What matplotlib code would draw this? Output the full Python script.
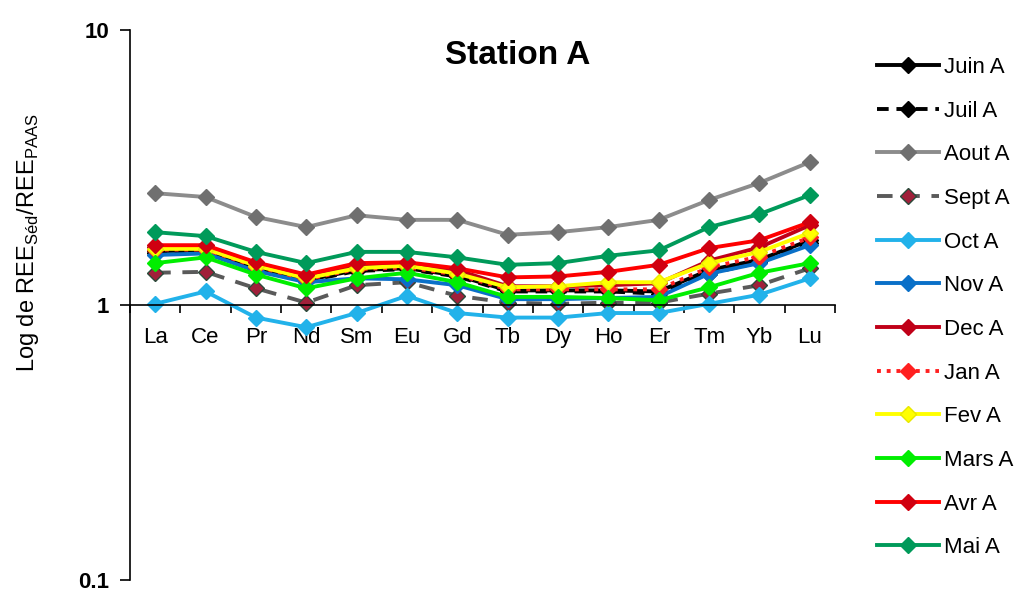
import matplotlib
matplotlib.use("Agg")
import matplotlib.pyplot as plt
from matplotlib.ticker import FixedLocator, NullLocator

plt.rcParams['font.family'] = ['Liberation Sans', 'DejaVu Sans']

elements = ['La', 'Ce', 'Pr', 'Nd', 'Sm', 'Eu', 'Gd', 'Tb', 'Dy', 'Ho', 'Er', 'Tm', 'Yb', 'Lu']

juin = [1.57, 1.58, 1.36, 1.23, 1.34, 1.36, 1.28, 1.13, 1.13, 1.13, 1.12, 1.34, 1.46, 1.72]
juil = [1.55, 1.57, 1.34, 1.22, 1.33, 1.35, 1.27, 1.12, 1.12, 1.12, 1.10, 1.30, 1.43, 1.68]
aout = [2.55, 2.47, 2.09, 1.92, 2.12, 2.04, 2.04, 1.80, 1.84, 1.92, 2.04, 2.41, 2.78, 3.31]
sept = [1.31, 1.32, 1.15, 1.02, 1.18, 1.21, 1.08, 1.02, 1.01, 1.02, 1.02, 1.10, 1.18, 1.36]
octo = [1.01, 1.12, 0.90, 0.83, 0.935, 1.08, 0.935, 0.90, 0.90, 0.935, 0.935, 1.01, 1.09, 1.25]
nov = [1.52, 1.54, 1.33, 1.21, 1.25, 1.24, 1.18, 1.05, 1.05, 1.06, 1.07, 1.30, 1.42, 1.65]
dec = [1.62, 1.62, 1.40, 1.27, 1.40, 1.41, 1.34, 1.17, 1.17, 1.18, 1.20, 1.45, 1.62, 1.95]
jan = [1.59, 1.59, 1.38, 1.24, 1.35, 1.37, 1.29, 1.14, 1.14, 1.14, 1.14, 1.37, 1.50, 1.76]
fev = [1.60, 1.60, 1.39, 1.25, 1.36, 1.39, 1.30, 1.16, 1.17, 1.21, 1.21, 1.42, 1.56, 1.83]
mars = [1.42, 1.49, 1.29, 1.15, 1.25, 1.31, 1.21, 1.07, 1.07, 1.06, 1.04, 1.16, 1.31, 1.42]
avr = [1.65, 1.65, 1.43, 1.29, 1.42, 1.43, 1.36, 1.26, 1.27, 1.32, 1.40, 1.61, 1.72, 2.00]
mai = [1.84, 1.78, 1.56, 1.42, 1.56, 1.56, 1.49, 1.40, 1.42, 1.51, 1.58, 1.92, 2.14, 2.51]

labels = ['Juin A', 'Juil A', 'Aout A', 'Sept A', 'Oct A', 'Nov A', 'Dec A',
          'Jan A', 'Fev A', 'Mars A', 'Avr A', 'Mai A']
series = [juin, juil, aout, sept, octo, nov, dec, jan, fev, mars, avr, mai]

styles = [
    dict(color='black', ls='-', mfc='black', mec='black'),
    dict(color='black', ls=(0, (3, 2)), mfc='black', mec='black'),
    dict(color='#8c8c8c', ls='-', mfc='#707070', mec='#707070'),
    dict(color='#5a5a5a', ls=(0, (4, 3)), mfc='#a0203a', mec='#2a4a3a'),
    dict(color='#22b2ea', ls='-', mfc='#22b2ea', mec='#22b2ea'),
    dict(color='#0a70c8', ls='-', mfc='#0a70c8', mec='#0a70c8'),
    dict(color='#c00018', ls='-', mfc='#c00018', mec='#c00018'),
    dict(color='#ff2020', ls=(0, (1, 1.5)), mfc='#ff2020', mec='#ff2020'),
    dict(color='#ffff00', ls='-', mfc='#ffff00', mec='#e8e800'),
    dict(color='#00ee00', ls='-', mfc='#00ee00', mec='#00ee00'),
    dict(color='#ff0000', ls='-', mfc='#d00010', mec='#d00010'),
    dict(color='#009a5a', ls='-', mfc='#009a5a', mec='#009a5a'),
]

fig = plt.figure(figsize=(10.35, 5.95), dpi=100)
ax = fig.add_axes([130/1035, 1 - 580/595, (835-130)/1035, 550/595])

x = list(range(len(elements)))
for lab, vals, st in zip(labels, series, styles):
    ax.plot(x, vals, marker='D', ms=8, lw=2.8, label=lab, **st)

ax.set_yscale('log')
ax.set_ylim(0.1, 10)
ax.set_xlim(-0.5, len(elements) - 0.5)

ax.spines['top'].set_visible(False)
ax.spines['right'].set_visible(False)
ax.spines['bottom'].set_position(('data', 1))
ax.spines['left'].set_linewidth(1.2)
ax.spines['bottom'].set_linewidth(1.2)

ax.set_xticks(x)
ax.set_xticklabels(elements, fontsize=16)
ax.xaxis.set_minor_locator(FixedLocator([i - 0.5 for i in range(len(elements) + 1)]))
ax.tick_params(axis='x', which='major', length=0, pad=16)
ax.tick_params(axis='x', which='minor', length=6, width=1.2, direction='out')

ax.yaxis.set_major_locator(FixedLocator([0.1, 1, 10]))
ax.yaxis.set_minor_locator(NullLocator())
ax.set_yticklabels(['0.1', '1', '10'], fontsize=16, fontweight='bold')
ax.tick_params(axis='y', length=7, width=1.2, direction='out', pad=8)

fig.text(518/1035, 1 - 55/595, 'Station A', fontsize=24, fontweight='bold',
         ha='center', va='center')
fig.text(28/1035, 1 - 243/595,
         r'Log de REE$_{\mathregular{Séd}}$/REE$_{\mathregular{PAAS}}$',
         fontsize=17, rotation=90, ha='center', va='center')

leg = fig.legend(loc='upper left', bbox_to_anchor=(868/1035, 1 - 48/595),
                 frameon=False, fontsize=16, handlelength=2.8, handletextpad=0.2,
                 labelspacing=1.02, borderaxespad=0)

fig.savefig('out.png', dpi=100, facecolor='white')
